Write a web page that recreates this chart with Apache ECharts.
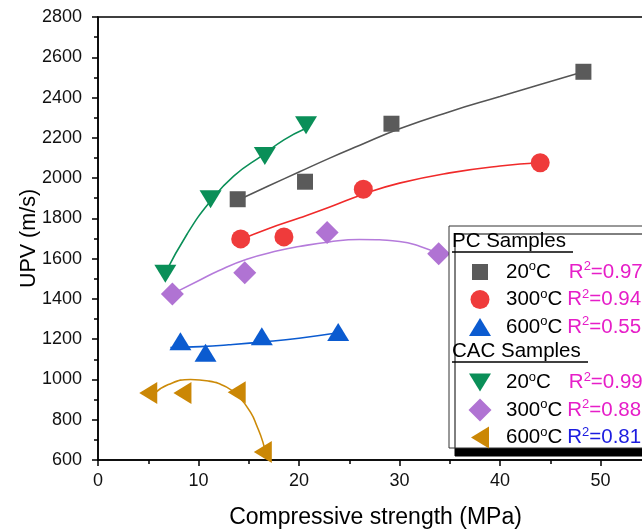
<!DOCTYPE html>
<html>
<head>
<meta charset="utf-8">
<script src="https://cdn.jsdelivr.net/npm/echarts@6/dist/echarts.min.js"></script>
<style>
  html, body { margin: 0; padding: 0; background: #fff; }
  #chart { width: 642px; height: 531px; }
</style>
</head>
<body>
<div id="chart"></div>
<script>
// measured points [compressive strength MPa, UPV m/s]
const pc20 = [[13.9, 1895], [20.6, 1982], [29.2, 2270], [48.3, 2528]]
const pc300 = [[14.2, 1698], [18.5, 1708], [26.4, 1945], [44.0, 2076]]
const pc600 = [[8.2, 1190], [10.7, 1133], [16.3, 1214], [23.9, 1236]]
const cac20 = [[6.7, 1525], [11.2, 1895], [16.6, 2110], [20.7, 2262]]
const cac300 = [[7.4, 1425], [14.6, 1530], [22.8, 1730], [33.9, 1624]]
const cac600 = [[5.0, 933], [8.4, 933], [13.8, 937], [16.4, 640]]

// fitted curves
const pc20Fit = [[13.9, 1890], [17, 1962], [20, 2030], [23, 2098], [26, 2162], [30, 2245], [35, 2330], [40, 2405], [44, 2465], [48.3, 2528]]
const pc300Fit = [[14.2, 1695], [17, 1750], [20.1, 1803], [23, 1855], [26.4, 1920], [30, 1975], [35, 2026], [40, 2060], [44, 2076]]
const pc600Fit = [[7.2, 1158], [10.2, 1163], [13, 1172], [16.8, 1188], [20, 1205], [23.9, 1232]]
const cac20Fit = [[6.6, 1520], [8.9, 1725], [11.1, 1880], [13.5, 2010], [16.5, 2118], [18.5, 2190], [20.6, 2245]]
const cac300Fit = [[7.4, 1425], [10, 1490], [12, 1540], [14.8, 1597], [18, 1640], [20, 1660], [23, 1683], [26, 1695], [30, 1685], [32, 1662], [34, 1622]]
const cac600Fit = [[5.6, 930], [7, 975], [9.2, 1000], [11, 992], [12.8, 962], [14, 915], [15.2, 835], [15.8, 770], [16.4, 690], [16.8, 610]]

const temps = ['20', '300', '600', '20', '300', '600']
const r2Values = ['0.97', '0.94', '0.55', '0.99', '0.88', '0.81']
const r2Colors = ['#e61ec8', '#e61ec8', '#e61ec8', '#e61ec8', '#e61ec8', '#1c1ce0']

const font = '"Liberation Sans", Arial, sans-serif'

const groups = [
  { name: 'PC 20', pts: pc20, fit: pc20Fit, color: '#5a5a5a', line: '#555555', symbol: 'rect', size: [16, 16], rotate: 0, icon: 'rect' },
  { name: 'PC 300', pts: pc300, fit: pc300Fit, color: '#ef3b3b', line: '#f02a2a', symbol: 'circle', size: [19, 19], rotate: 0, icon: 'circle' },
  { name: 'PC 600', pts: pc600, fit: pc600Fit, color: '#0b5bd0', line: '#0b5bd0', symbol: 'triangle', size: [22, 18], rotate: 0, icon: 'triangle' },
  { name: 'CAC 20', pts: cac20, fit: cac20Fit, color: '#0a8f58', line: '#0a8f58', symbol: 'triangle', size: [22, 18], rotate: 180, icon: 'path://M0,0L22,0L11,18Z' },
  { name: 'CAC 300', pts: cac300, fit: cac300Fit, color: '#b073d3', line: '#b57bdb', symbol: 'diamond', size: [23, 23], rotate: 0, icon: 'diamond' },
  { name: 'CAC 600', pts: cac600, fit: cac600Fit, color: '#cb8705', line: '#cc8a08', symbol: 'triangle', size: [22, 18], rotate: 90, icon: 'path://M18,0L18,22L0,11Z' },
]

// legend row centres
const rowY = [270, 297.5, 325, 380.5, 408, 435.5]

const chart = echarts.init(document.getElementById('chart'))

const series = []
groups.forEach(g => {
  series.push({
    type: 'line',
    data: g.fit,
    smooth: 0.5,
    showSymbol: false,
    symbol: 'none',
    lineStyle: { color: g.line, width: 1.6 },
    z: 2,
    silent: true,
  })
  series.push({
    name: g.name,
    type: 'scatter',
    data: g.pts,
    symbol: g.symbol,
    symbolSize: g.size,
    symbolRotate: g.rotate,
    itemStyle: { color: g.color, opacity: 1 },
    z: 3,
  })
})

const legends = groups.map((g, i) => {
  const iw = g.rotate === 90 ? g.size[1] : g.size[0]
  const ih = g.rotate === 90 ? g.size[0] : g.size[1]
  const pad = 501 - (475 + iw / 2 + 5)
  const gap = temps[i].length === 2 ? 18 : 5
  return {
    data: [{ name: g.name, icon: g.icon }],
    left: 475 - iw / 2,
    top: rowY[i] - 15,
    itemWidth: iw,
    itemHeight: ih,
    symbolKeepAspect: false,
    selectedMode: false,
    z: 10,
    formatter: () => `{p| }{a|${temps[i]}}{o|o}{a|C}{g| }{r|R}{rs|2}{r|=${r2Values[i]}}`,
    textStyle: {
      fontFamily: font,
      rich: {
        p: { width: pad, fontSize: 20.5, lineHeight: 24 },
        a: { fontSize: 20.5, lineHeight: 24, color: '#000', fontFamily: font },
        o: { fontSize: 13, lineHeight: 13, verticalAlign: 'top', color: '#000', fontFamily: font },
        g: { width: gap, fontSize: 20.5, lineHeight: 24 },
        r: { fontSize: 20.5, lineHeight: 24, color: r2Colors[i], fontFamily: font },
        rs: { fontSize: 13, lineHeight: 13, verticalAlign: 'top', color: r2Colors[i], fontFamily: font },
      },
    },
  }
})

const option = {
  animation: false,
  backgroundColor: '#fff',
  grid: {
    left: 98,
    top: 17,
    width: 603,
    height: 443,
    outerBoundsMode: 'none',
    containLabel: false,
    show: true,
    borderColor: '#000',
    borderWidth: 1.5,
  },
  xAxis: {
    type: 'value',
    min: 0,
    max: 60,
    interval: 10,
    name: 'Compressive strength (MPa)',
    nameLocation: 'middle',
    nameMoveOverlap: false,
    nameGap: 46,
    nameTextStyle: { fontFamily: font, fontSize: 23, color: '#000', padding: [0, 48, 0, 0] },
    axisLine: { lineStyle: { color: '#000', width: 1.5 } },
    axisTick: { inside: false, length: 6, lineStyle: { color: '#000', width: 1.5 } },
    minorTick: { show: true, splitNumber: 2, length: 4, lineStyle: { color: '#000', width: 1.5 } },
    axisLabel: { fontFamily: font, fontSize: 18, color: '#111', margin: 12 },
    splitLine: { show: false },
  },
  yAxis: {
    type: 'value',
    min: 600,
    max: 2800,
    interval: 200,
    name: 'UPV (m/s)',
    nameLocation: 'middle',
    nameRotate: 90,
    nameMoveOverlap: false,
    nameGap: 58,
    nameTextStyle: { fontFamily: font, fontSize: 21.5, color: '#000' },
    axisLine: { lineStyle: { color: '#000', width: 1.5 } },
    axisTick: { inside: false, length: 6, lineStyle: { color: '#000', width: 1.5 } },
    minorTick: { show: true, splitNumber: 2, length: 4, lineStyle: { color: '#000', width: 1.5 } },
    axisLabel: { fontFamily: font, fontSize: 18, color: '#111', margin: 16, formatter: v => String(v) },
    splitLine: { show: false },
  },
  legend: legends,
  graphic: [
    {
      type: 'rect',
      z: 5,
      shape: { x: 449, y: 226, width: 260, height: 222 },
      style: { fill: '#fff', stroke: '#333', lineWidth: 1, shadowColor: '#000', shadowOffsetX: 6, shadowOffsetY: 8, shadowBlur: 0 },
    },
    {
      type: 'text', z: 11, left: 452, top: 231,
      style: { text: 'PC Samples', font: `20.5px ${font}`, fill: '#000' },
    },
    {
      type: 'line', z: 11,
      shape: { x1: 452, y1: 252, x2: 573, y2: 252 },
      style: { stroke: '#000', lineWidth: 1.5 },
    },
    {
      type: 'text', z: 11, left: 452, top: 341,
      style: { text: 'CAC Samples', font: `20.5px ${font}`, fill: '#000' },
    },
    {
      type: 'line', z: 11,
      shape: { x1: 452, y1: 362, x2: 588, y2: 362 },
      style: { stroke: '#000', lineWidth: 1.5 },
    },
  ],
  series,
}

chart.setOption(option)
</script>
</body>
</html>
